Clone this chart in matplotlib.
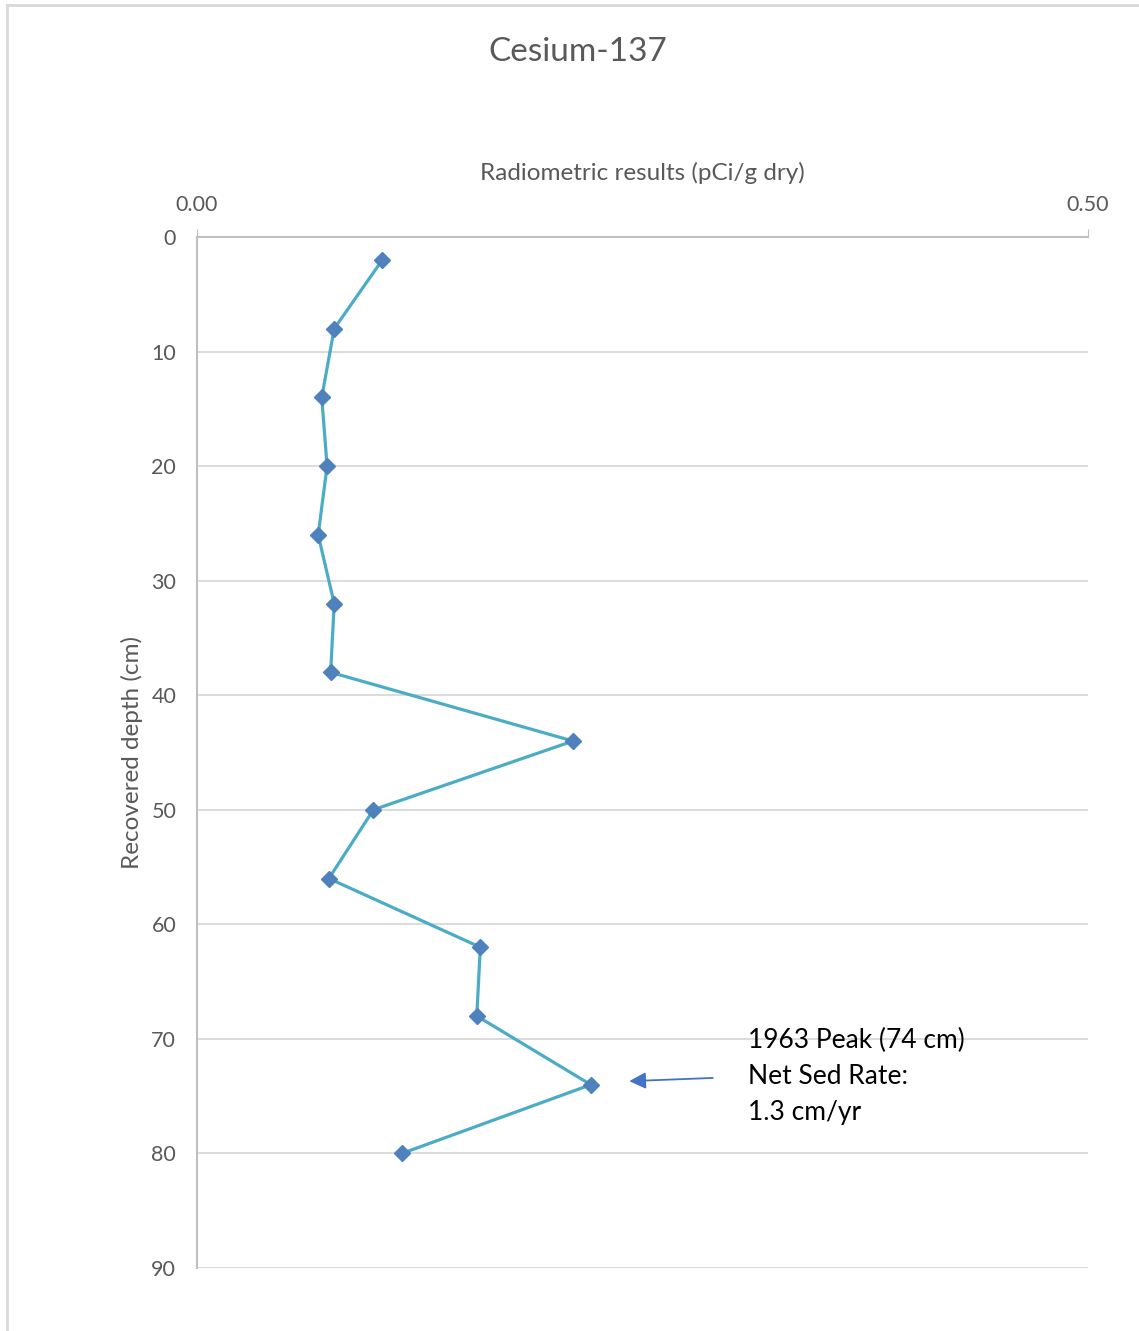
import matplotlib.pyplot as plt
from matplotlib.patches import Rectangle

# Cs-137 profile
depth = [2, 8, 14, 20, 26, 32, 38, 44, 50, 56, 62, 68, 74, 80]
activity = [0.104, 0.077, 0.070, 0.073, 0.068, 0.077, 0.075,
            0.211, 0.099, 0.074, 0.159, 0.157, 0.221, 0.115]

x_ticks = [0.0, 0.5]
y_ticks = [0, 10, 20, 30, 40, 50, 60, 70, 80, 90]

plt.rcParams['font.family'] = ['Lato', 'DejaVu Sans']
grey = '#595959'

fig = plt.figure(figsize=(11.39, 13.31), dpi=100)
fig.patches.append(Rectangle((7 / 1139, -0.1), 1.2, 1 - 5 / 1331 + 0.1,
                             transform=fig.transFigure, fill=False,
                             edgecolor='#d9d9d9', linewidth=2))

ax = fig.add_axes([197 / 1139, 1 - 1268 / 1331, (1088 - 197) / 1139, (1268 - 237) / 1331])
ax.plot(activity, depth, color='#4bacc6', linewidth=2.3, marker='D',
        markersize=8, markerfacecolor='#4f81bd', markeredgecolor='#4f81bd', zorder=3)

ax.set_xlim(0, 0.5)
ax.set_ylim(90, 0)
ax.set_xticks(x_ticks)
ax.set_xticklabels(['%.2f' % v for v in x_ticks])
ax.set_yticks(y_ticks)
ax.xaxis.tick_top()
ax.xaxis.set_label_position('top')
ax.tick_params(axis='x', colors='#bfbfbf', labelcolor=grey, labelsize=15.5, length=6, pad=10)
ax.tick_params(axis='y', length=0, labelcolor=grey, labelsize=15.5, pad=15)
ax.grid(axis='y', color='#d9d9d9', linewidth=1.3)
ax.set_axisbelow(True)
for s in ['right', 'bottom']:
    ax.spines[s].set_visible(False)
for s in ['left', 'top']:
    ax.spines[s].set_color('#bfbfbf')
    ax.spines[s].set_linewidth(1.5)

ax.set_xlabel('Radiometric results (pCi/g dry)', color=grey, fontsize=17.5, labelpad=11)
ax.set_ylabel('Recovered depth (cm)', color=grey, fontsize=17.5, labelpad=6)
fig.text(578 / 1139, 1 - 52 / 1331, 'Cesium-137', color=grey, fontsize=24,
         ha='center', va='center')

ax.annotate('', xy=(0.241, 73.7), xytext=(0.291, 73.4),
            arrowprops=dict(arrowstyle='-|>', color='#4472c4', lw=1.3,
                            mutation_scale=25))
ax.text(0.309, 73.3, '1963 Peak (74 cm)\nNet Sed Rate:\n1.3 cm/yr', fontsize=19,
        color='black', va='center', ha='left', linespacing=1.55)

fig.savefig('out.png', dpi=100)
